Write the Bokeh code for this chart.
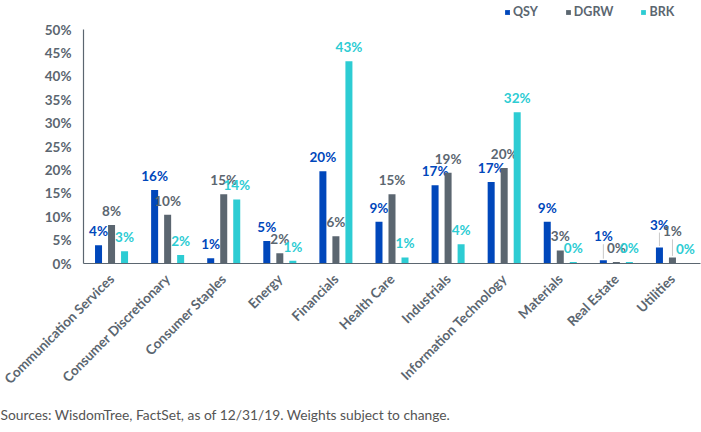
import math
from bokeh.plotting import figure
from bokeh.models import (ColumnDataSource, FactorRange, Range1d, FixedTicker,
                          CustomJSTickFormatter, Legend, LegendItem, Title)
from bokeh.transform import dodge
from bokeh.core.properties import value
from bokeh.embed import file_html
from bokeh.resources import INLINE

categories = ["Communication Services", "Consumer Discretionary", "Consumer Staples",
              "Energy", "Financials", "Health Care", "Industrials",
              "Information Technology", "Materials", "Real Estate", "Utilities"]
qsy = [3.9, 15.7, 1.1, 4.8, 19.7, 8.9, 16.7, 17.4, 8.9, 0.7, 3.4]
dgrw = [8.2, 10.4, 14.8, 2.2, 5.8, 14.8, 19.4, 20.4, 2.8, 0.3, 1.3]
brk = [2.6, 1.8, 13.7, 0.6, 43.2, 1.3, 4.1, 32.3, 0.3, 0.3, 0.1]
series_names = ["QSY", "DGRW", "BRK"]
y_ticks = [0, 5, 10, 15, 20, 25, 30, 35, 40, 45, 50]
source_note = "Sources: WisdomTree, FactSet, as of 12/31/19. Weights subject to change."

# styling
colors = ["#0047BB", "#5B6670", "#2DCCD3"]
offsets = [-0.232, 0.0, 0.232]
FONT = "Lato"
PLOT_TOP_PX, AXIS_PX = 29, 263           # 50% line and 0% line in canvas pixels
PX_PER_UNIT = (AXIS_PX - PLOT_TOP_PX) / 50.0
# extra lift (px) for crowded labels drawn with leader lines
label_lift = {
    "QSY": [0, 0, 0, 0, 0, 0, 0, 0, 0, 10, 9],
    "DGRW": [0, 0, 0, 0, 0, 0, 0, 0, 0, 0, 12],
    "BRK": [0] * 11,
}

p = figure(width=701, height=432, output_backend="svg", toolbar_location=None,
           x_range=FactorRange(*categories, range_padding=0),
           y_range=Range1d(0, AXIS_PX / PX_PER_UNIT),
           min_border_left=83, min_border_right=1, min_border_top=0,
           min_border_bottom=432 - AXIS_PX)
p.outline_line_color = None
p.xgrid.grid_line_color = None
p.ygrid.grid_line_color = None

vals = {"QSY": qsy, "DGRW": dgrw, "BRK": brk}
data = dict(cat=categories)
for n in series_names:
    v = vals[n]
    data[n] = v
    data[n + "_lbl"] = ["%d%%" % round(x) for x in v]
    data[n + "_ly"] = [x + (14 + l) / PX_PER_UNIT for x, l in zip(v, label_lift[n])]
    data[n + "_l0"] = [x + 1.5 / PX_PER_UNIT if l else float("nan") for x, l in zip(v, label_lift[n])]
    data[n + "_l1"] = [x + (6 + l) / PX_PER_UNIT if l else float("nan") for x, l in zip(v, label_lift[n])]
src = ColumnDataSource(data)

renderers = []
for name, col, off in zip(series_names, colors, offsets):
    xd = dodge("cat", off, range=p.x_range)
    r = p.vbar(x=xd, top=name, width=0.125, source=src, fill_color=col, line_color=None)
    renderers.append(r)
    p.segment(x0=xd, y0=name + "_l0", x1=xd, y1=name + "_l1", source=src,
              line_color="#C8C8C8", line_width=1)
    p.text(x=xd, y=name + "_ly", text=name + "_lbl", source=src, text_color=col,
           text_font=value(FONT), text_font_style="bold", text_font_size="13.5px",
           text_align="center", text_baseline="middle")

# axes
p.yaxis.ticker = FixedTicker(ticks=y_ticks)
p.yaxis.formatter = CustomJSTickFormatter(code="return tick + '%';")
p.yaxis.bounds = (0, 50)
for ax in (p.xaxis[0], p.yaxis[0]):
    ax.axis_line_color = "#5B6670"
    ax.axis_line_width = 1.2
    ax.major_tick_line_color = None
    ax.minor_tick_line_color = None
    ax.major_tick_in = 0
    ax.major_tick_out = 0
    ax.major_label_text_color = "#5B6670"
    ax.major_label_text_font = FONT
    ax.major_label_text_font_style = "bold"
p.yaxis.major_label_text_font_size = "13.5px"
p.yaxis.major_label_standoff = 12
p.xaxis.major_label_text_font_size = "13.5px"
p.xaxis.major_label_orientation = math.pi / 4
p.xaxis.major_label_standoff = 13

legend = Legend(items=[LegendItem(label=n, renderers=[r]) for n, r in zip(series_names, renderers)],
                orientation="horizontal", location=(421, 244),
                glyph_width=6, glyph_height=6, label_height=12, label_standoff=3,
                spacing=27, padding=0, margin=0, border_line_color=None,
                background_fill_alpha=0, label_text_font=FONT,
                label_text_font_style="bold", label_text_font_size="12.5px",
                label_text_color="#5B6670")
p.add_layout(legend, "center")

note = Title(text=source_note, align="left", offset=-83, text_font=FONT,
             text_font_size="13.8px", text_font_style="normal", text_color="#555555",
             standoff=16)
p.add_layout(note, "below")

open("out.html", "w").write(file_html(p, INLINE))
